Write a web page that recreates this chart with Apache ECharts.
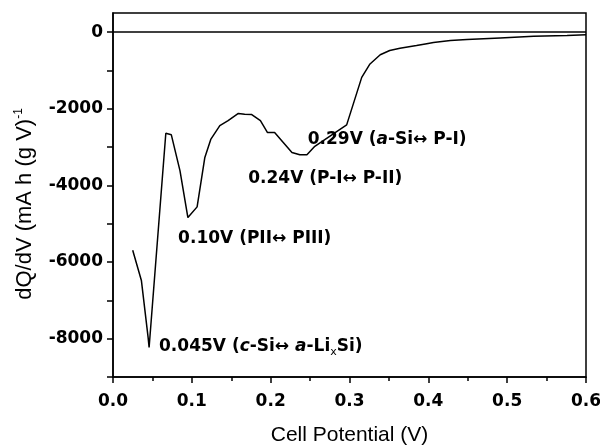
<!DOCTYPE html>
<html>
<head>
<meta charset="utf-8">
<script src="https://cdn.jsdelivr.net/npm/echarts@6/dist/echarts.min.js"></script>
<style>html,body{margin:0;padding:0;background:#fff}#c{width:600px;height:445px}</style>
</head>
<body>
<div id="c"></div>
<script>
// Cell potential (V)
const volts = [0.025, 0.036, 0.0446, 0.0458, 0.067, 0.074, 0.085, 0.095, 0.1067, 0.1165, 0.124,
  0.1355, 0.146, 0.159, 0.167, 0.176, 0.187, 0.196, 0.205, 0.216, 0.227, 0.237, 0.246, 0.256,
  0.2964, 0.3155, 0.326, 0.339, 0.351, 0.364, 0.385, 0.398, 0.4065, 0.428, 0.449, 0.491, 0.5335, 0.576, 0.6];
// dQ/dV (mA h (g V)^-1)
const dQdV = [-5690, -6480, -7980, -8230, -2640, -2680, -3620, -4840, -4560, -3270, -2800,
  -2440, -2310, -2120, -2140, -2150, -2310, -2620, -2620, -2880, -3140, -3200, -3200, -2980,
  -2420, -1180, -830, -590, -480, -420, -350, -300, -270, -220, -190, -150, -110, -90, -70];

const xTicks = [0.0, 0.1, 0.2, 0.3, 0.4, 0.5, 0.6];
const yTickValues = [-9000, -8000, -7000, -6000, -5000, -4000, -3000, -2000, -1000, 0];
const yLabelValues = [-8000, -6000, -4000, -2000, 0];
const zeroLine = 0;

// annotation anchors (left-middle of each label, in data units)
const annV = [0.247, 0.1715, 0.0826, 0.0584];
const annQ = [-2800, -3810, -5400, -8200];
const annText = [
  '{b|0.29V (}{i|a}{b|-Si↔ P-I)}',
  '{b|0.24V (P-I↔ P-II)}',
  '{b|0.10V (PII↔ PIII)}',
  '{b|0.045V (}{i|c}{b|-Si↔ }{i|a}{b|-Li}{s|x}{b|Si)}'
];

const boldFont = 'DejaVu Sans';
const chart = echarts.init(document.getElementById('c'), null, {renderer: 'canvas'});
chart.setOption({
  animation: false,
  backgroundColor: '#fff',
  grid: {left: 113, right: 14, top: 13, bottom: 68, containLabel: false, outerBoundsMode: 'none',
    show: true, borderColor: '#000', borderWidth: 1.5, backgroundColor: 'transparent'},
  xAxis: {
    type: 'value', min: xTicks[0], max: xTicks[xTicks.length - 1], interval: 0.1,
    name: 'Cell Potential (V)', nameLocation: 'middle', nameGap: 48,
    nameTextStyle: {fontFamily: 'Liberation Sans', fontSize: 21, color: '#000'},
    axisLine: {show: true, onZero: false, lineStyle: {color: '#000', width: 1.5}},
    axisTick: {show: true, length: 6, lineStyle: {color: '#000', width: 1.5}},
    minorTick: {show: true, splitNumber: 2, length: 4, lineStyle: {color: '#000', width: 1.5}},
    splitLine: {show: false},
    axisLabel: {margin: 16, fontFamily: boldFont, fontWeight: 'bold', fontSize: 17, color: '#000',
      formatter: v => v.toFixed(1)}
  },
  yAxis: {
    type: 'value', min: -9000, max: 500,
    name: '{n|dQ/dV (mA h (g V)}{p|-1}', nameLocation: 'middle', nameGap: 76,
    nameTextStyle: {
      color: '#000',
      padding: [0, 18, 0, 0],
      rich: {
        n: {fontFamily: 'Liberation Sans', fontSize: 22, color: '#000'},
        p: {fontFamily: 'Liberation Sans', fontSize: 12, color: '#000', padding: [0, 0, 12, 0]}
      }
    },
    axisLine: {show: true, onZero: false, lineStyle: {color: '#000', width: 1.5}},
    axisTick: {show: true, length: 6, customValues: yTickValues, lineStyle: {color: '#000', width: 1.5}},
    splitLine: {show: false},
    axisLabel: {margin: 10, customValues: yLabelValues, fontFamily: boldFont, fontWeight: 'bold', fontSize: 17, color: '#000',
      formatter: v => String(v)}
  },
  series: [{
    type: 'line',
    data: volts.map((v, i) => [v, dQdV[i]]),
    showSymbol: false,
    symbol: 'none',
    lineStyle: {color: '#000', width: 1.5},
    silent: true,
    markLine: {
      silent: true, symbol: ['none', 'none'], label: {show: false},
      lineStyle: {color: '#000', width: 1.5, type: 'solid'},
      data: [{yAxis: zeroLine}]
    },
    markPoint: {
      silent: true,
      symbol: 'circle', symbolSize: 0,
      itemStyle: {color: 'transparent'},
      label: {
        show: true, position: 'right', distance: 0, color: '#000',
        rich: {
          b: {fontFamily: boldFont, fontWeight: 'bold', fontSize: 17, color: '#000'},
          i: {fontFamily: boldFont, fontWeight: 'bold', fontStyle: 'italic', fontSize: 17, color: '#000'},
          s: {fontFamily: boldFont, fontSize: 11, color: '#000', padding: [12, 0, 0, 0]}
        }
      },
      data: annV.map((v, i) => ({coord: [v, annQ[i]], label: {formatter: annText[i]}}))
    }
  }]
});
</script>
</body>
</html>
